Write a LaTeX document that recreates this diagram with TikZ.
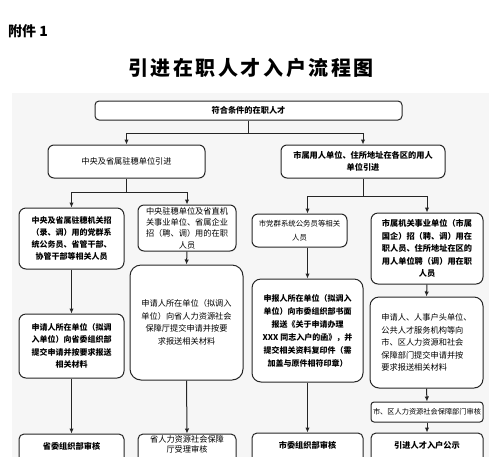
\documentclass[tikz,border=0pt]{standalone}
\usepackage{fontspec}
\newfontfamily\cjk{Noto Sans CJK SC}
\usetikzlibrary{arrows.meta}
\begin{document}
\begin{tikzpicture}[x=1pt,y=-1pt,
 box/.style={draw=black!85, line width=1pt, rounded corners=5pt, fill=white, inner sep=0pt, align=center, font=\cjk\fontsize{8.2}{12.5}\selectfont},
 bb/.style={box, font=\cjk\bfseries\fontsize{8.2}{12.5}\selectfont},
 arr/.style={line width=1pt, draw=black!85, -{Latex[length=5pt,width=4.5pt]}},
 ln/.style={line width=1pt, draw=black!85}]
\useasboundingbox (0,0) rectangle (500,456);
\clip (0,0) rectangle (500,456);
\fill[gray!7] (12,93) rectangle (489,460);
\node[font=\cjk\bfseries\fontsize{14}{14}\selectfont, anchor=west, inner sep=0pt] (att) at (8,31.5) {附件 1};
\node[font=\cjk\bfseries\fontsize{20}{20}\selectfont\addfontfeature{LetterSpace=13}, inner sep=0pt] (title) at (251,68) {引进在职人才入户流程图};

\node[bb, minimum width=307pt, minimum height=19pt, rounded corners=4pt] (top) at (248.5,110.5) {符合条件的在职人才};
\node[box, minimum width=157pt, minimum height=33pt, rounded corners=6pt] (B) at (126.5,161.5) {中央及省属驻穗单位引进};
\node[bb, minimum width=164pt, minimum height=33pt, rounded corners=6pt] (C) at (363,161.5) {市属用人单位、住所地址在各区的用人\\单位引进};

\node[bb, minimum width=105pt, minimum height=61pt, rounded corners=7pt, font=\cjk\bfseries\fontsize{8}{12.3}\selectfont] (L1) at (71.5,238.5) {中央及省属驻穗机关招\\（录、调）用的党群系\\统公务员、省管干部、\\协管干部等相关人员};
\node[box, minimum width=98pt, minimum height=46pt, rounded corners=6pt, font=\cjk\fontsize{8.2}{11.3}\selectfont] (L2) at (187,228) {中央驻穗单位及省直机\\关事业单位、省属企业\\招（聘、调）用的在职\\人员};
\node[box, minimum width=95pt, minimum height=33pt, rounded corners=6pt, font=\cjk\fontsize{7.4}{14}\selectfont] (R1) at (299.5,230.5) {市党群系统公务员等相关\\人员};
\node[bb, minimum width=112pt, minimum height=71pt, rounded corners=7pt] (R2) at (427,248.5) {市属机关事业单位（市属\\国企）招（聘、调）用在\\职人员、住所地址在区的\\用人单位聘（调）用在职\\人员};

\node[bb, minimum width=105pt, minimum height=64pt, rounded corners=7pt, font=\cjk\bfseries\fontsize{8}{12.5}\selectfont] (L1b) at (71.5,346) {申请人所在单位（拟调\\入单位）向省委组织部\\提交申请并按要求报送\\相关材料};
\node[box, minimum width=113pt, minimum height=115pt, rounded corners=11pt] (L2b) at (186.5,322.5) {申请人所在单位（拟调入\\单位）向省人力资源社会\\保障厅提交申请并按要\\求报送相关材料};
\node[bb, minimum width=111pt, minimum height=103pt, rounded corners=9pt, font=\cjk\bfseries\fontsize{8}{13}\selectfont] (R1b) at (307.5,330.5) {申报人所在单位（拟调入\\单位）向市委组织部书面\\报送《关于申请办理\\XXX 同志入户的函》，并\\提交相关资料复印件（需\\加盖与原件相符印章）};
\node[box, minimum width=113pt, minimum height=91pt, rounded corners=9pt, align=left] (R2b) at (426.5,342.5) {申请人、人事户头单位、\\公共人才服务机构等向\\市、区人力资源和社会\\保障部门提交申请并按\\要求报送相关材料};
\node[box, minimum width=112pt, minimum height=20pt, rounded corners=3pt, font=\cjk\fontsize{7.2}{9}\selectfont] (R2c) at (427,412) {市、区人力资源社会保障部门审核};

\node[bb, minimum width=105pt, minimum height=32pt, rounded corners=5pt, text depth=8pt] (L1c) at (71.5,450) {省委组织部审核};
\node[box, minimum width=98pt, minimum height=32pt, rounded corners=5pt, font=\cjk\fontsize{8.2}{10.5}\selectfont, text depth=12pt] (L2c) at (187,450) {省人力资源社会保障\\厅受理审核};
\node[bb, minimum width=111pt, minimum height=32pt, rounded corners=5pt, text depth=8pt] (R1c) at (307.5,449) {市委组织部审核};
\node[bb, minimum width=112pt, minimum height=32pt, rounded corners=5pt, text depth=8pt] (R2d) at (427,449) {引进人才入户公示};

\draw[ln] (top.south) -- ++(0,13) coordinate (j1);
\draw[arr] (j1) -| (B.north);
\draw[arr] (j1) -| (C.north);
\draw[ln] (B.south) -- ++(0,14) coordinate (j2);
\draw[arr] (j2) -| (L1.north);
\draw[arr] (j2) -| (L2.north);
\draw[ln] (C.south) -- ++(0,18) coordinate (j3);
\draw[arr] (j3) -| (R1.north -| R1b.north);
\draw[arr] (j3) -| (R2.north);
\draw[arr] (L1.south) -- (L1b.north);
\draw[arr] (L1b.south) -- (L1c.north);
\draw[arr] (L2.south) -- (L2b.north);
\draw[arr] (L2b.south) -- (L2c.north);
\draw[arr] (R1.south -| R1b.north) -- (R1b.north);
\draw[arr] (R1b.south) -- (R1c.north);
\draw[arr] (R2.south) -- (R2b.north);
\draw[arr] (R2b.south) -- (R2c.north);
\draw[arr] (R2c.south) -- (R2d.north);
\end{tikzpicture}
\end{document}
